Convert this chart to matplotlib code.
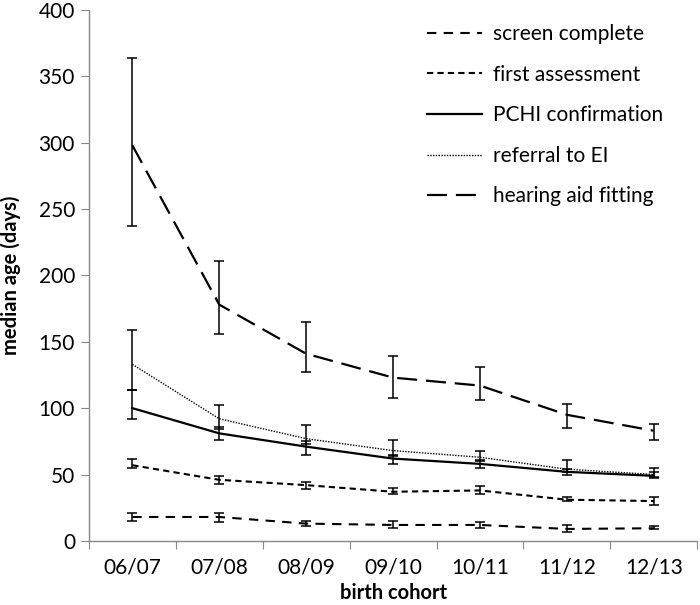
import matplotlib
matplotlib.use("Agg")
import matplotlib.pyplot as plt
import numpy as np

cohorts = ["06/07", "07/08", "08/09", "09/10", "10/11", "11/12", "12/13"]

screen = [18, 18, 13, 12, 12, 9, 9.5]
screen_hi = [21, 21, 15, 15, 14, 12, 11]
screen_lo = [15, 14, 11, 10, 10, 7, 9]

first = [57, 46, 42, 37, 38, 31, 30]
first_hi = [62, 49, 44, 40, 41, 33, 33]
first_lo = [55, 43, 39, 35, 35, 30, 27]

pchi = [100, 81, 71, 62, 58, 52, 49]
pchi_hi = [114, 86, 75, 65, 61, 54, 52]
pchi_lo = [92, 76, 65, 58, 55, 50, 47]

referral = [133, 92, 77, 68, 63, 54, 50]
referral_hi = [159, 102, 87, 76, 68, 61, 55]
referral_lo = [114, 84, 73, 64, 60, 52, 48]

hearing = [298, 178, 141, 123, 117, 95, 83]
hearing_hi = [364, 211, 165, 139, 131, 103, 88]
hearing_lo = [237, 156, 127, 108, 106, 85, 76]

plt.rcParams['font.family'] = ['Lato', 'DejaVu Sans']

fig = plt.figure(figsize=(7.0, 6.05), dpi=100)
ax = fig.add_axes([0.127, 0.106, 0.869, 0.8775])

x = np.arange(len(cohorts))

series = [
    ("screen complete", screen, screen_lo, screen_hi, (0, (4.5, 3.5)), 1.5),
    ("first assessment", first, first_lo, first_hi, (0, (3, 2)), 1.5),
    ("PCHI confirmation", pchi, pchi_lo, pchi_hi, '-', 1.6),
    ("referral to EI", referral, referral_lo, referral_hi, (0, (1, 1)), 1.0),
    ("hearing aid fitting", hearing, hearing_lo, hearing_hi, (0, (9, 4)), 1.6),
]

for label, y, lo, hi, ls, lw in series:
    y = np.array(y, dtype=float)
    yerr = np.vstack([y - np.array(lo), np.array(hi) - y])
    ax.errorbar(x, y, yerr=yerr, fmt='none', ecolor='black', elinewidth=1.1,
                capsize=3.6, capthick=1.1, zorder=2)
    ax.plot(x, y, color='black', linestyle=ls, linewidth=lw, label=label, zorder=3)

ax.set_xlim(-0.5, len(cohorts) - 0.5)
ax.set_ylim(0, 400)
ax.set_yticks(np.arange(0, 401, 50))
ax.set_xticks(np.arange(-0.5, len(cohorts), 1.0))
ax.set_xticklabels([])
ax.set_xticks(x, minor=True)
ax.set_xticklabels(cohorts, minor=True)
ax.tick_params(axis='x', which='minor', length=0, pad=12, labelsize=15)
ax.tick_params(axis='x', which='major', length=6, color='#888888', direction='out')
ax.tick_params(axis='y', length=6, color='#888888', labelsize=15, pad=4)

for s in ['top', 'right']:
    ax.spines[s].set_visible(False)
for s in ['left', 'bottom']:
    ax.spines[s].set_color('#888888')
    ax.spines[s].set_linewidth(1.0)

ax.set_xlabel("birth cohort", fontsize=14.5, fontweight='bold', va='top')
ax.xaxis.set_label_coords(0.5016, -0.079)
ax.set_ylabel("median age (days)", fontsize=14.5, fontweight='bold')
ax.yaxis.set_label_coords(-0.112, 0.5)

leg = ax.legend(loc='upper left', bbox_to_anchor=(427 / 700, 1 - 24 / 605),
                bbox_transform=fig.transFigure, frameon=False,
                fontsize=15, handlelength=2.64, labelspacing=0.99, handletextpad=0.53,
                borderaxespad=0.0, borderpad=0.0)

fig.savefig("out.png", dpi=100, facecolor='white')
